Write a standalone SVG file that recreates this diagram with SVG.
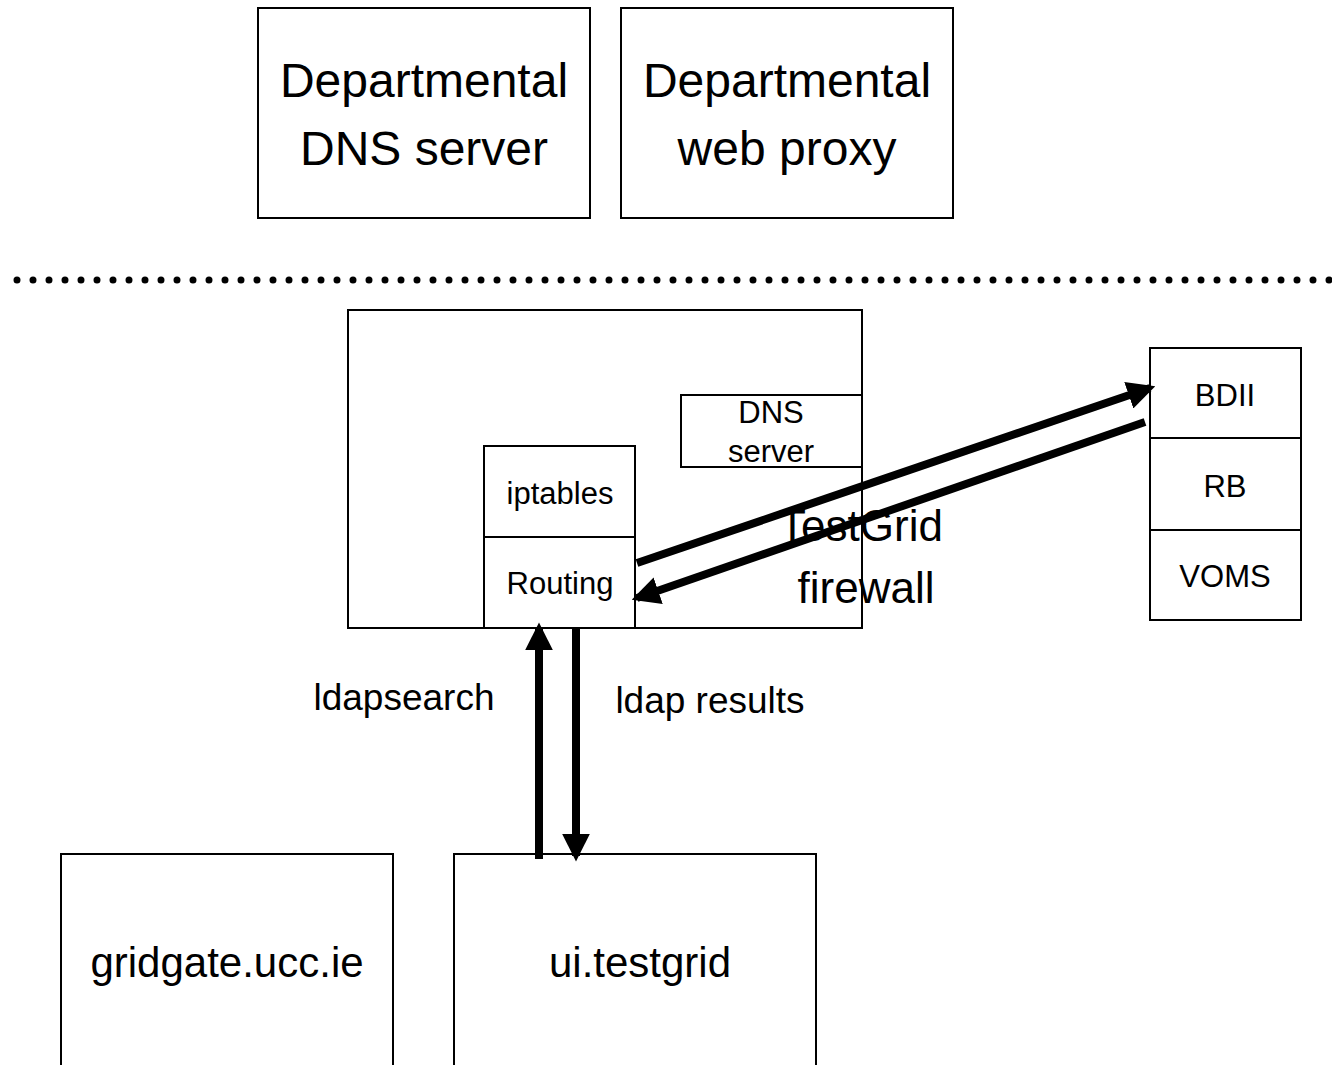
<svg xmlns="http://www.w3.org/2000/svg" width="1332" height="1065" viewBox="0 0 1332 1065">
<defs>
<style>
.box{fill:#fff;stroke:#000;stroke-width:2}
.t{font-family:"Liberation Sans",Arial,sans-serif;fill:#000;text-anchor:middle}
.big{font-size:48px}
.mid{font-size:44px}
.bot{font-size:42px}
.lab{font-size:37px}
.sm{font-size:31px}
.arr{stroke:#000;stroke-width:8;fill:none}
</style>
<marker id="ah" markerWidth="3.5" markerHeight="3.5" refX="2.8" refY="1.75" orient="auto" markerUnits="strokeWidth">
<path d="M0,0 L3.5,1.75 L0,3.5 z" fill="#000"/>
</marker>
</defs>
<rect width="1332" height="1065" fill="#fff"/>
<g id="dns-dept"><rect class="box" x="258" y="8" width="332" height="210"/>
<text class="t big" x="424" y="97">Departmental</text><text class="t big" x="424" y="165">DNS server</text></g>
<g id="proxy-dept"><rect class="box" x="621" y="8" width="332" height="210"/>
<text class="t big" x="787" y="97">Departmental</text><text class="t big" x="787" y="165">web proxy</text></g>
<line x1="17" y1="280" x2="1332" y2="280" stroke="#000" stroke-width="7" stroke-linecap="round" stroke-dasharray="0 16"/>
<g id="firewall"><rect class="box" x="348" y="310" width="514" height="318"/>
<text class="t mid" x="861" y="541">TestGrid</text><text class="t mid" x="866" y="603">firewall</text></g>
<g id="dns-server"><rect class="box" x="681" y="395" width="181" height="72"/>
<text class="t sm" x="771" y="423">DNS</text><text class="t sm" x="771" y="462">server</text></g>
<g id="iptables"><rect class="box" x="484" y="446" width="151" height="91"/>
<text class="t sm" x="560" y="504">iptables</text></g>
<g id="routing"><rect class="box" x="484" y="537" width="151" height="91"/>
<text class="t sm" x="560" y="594">Routing</text></g>
<g id="bdii"><rect class="box" x="1150" y="348" width="151" height="90"/>
<text class="t sm" x="1225" y="406">BDII</text></g>
<g id="rb"><rect class="box" x="1150" y="438" width="151" height="92"/>
<text class="t sm" x="1225" y="497">RB</text></g>
<g id="voms"><rect class="box" x="1150" y="530" width="151" height="90"/>
<text class="t sm" x="1225" y="587">VOMS</text></g>
<g id="gridgate"><rect class="box" x="61" y="854" width="332" height="230"/>
<text class="t bot" x="227" y="977">gridgate.ucc.ie</text></g>
<g id="ui"><rect class="box" x="454" y="854" width="362" height="230"/>
<text class="t bot" x="640" y="977">ui.testgrid</text></g>
<g id="connectors">
<line class="arr" x1="637" y1="563" x2="1150" y2="388" marker-end="url(#ah)"/>
<line class="arr" x1="1145" y1="422" x2="637" y2="598" marker-end="url(#ah)"/>
<line class="arr" x1="539" y1="859" x2="539" y2="628" marker-end="url(#ah)"/>
<line class="arr" x1="576" y1="628" x2="576" y2="856" marker-end="url(#ah)"/>
</g>
<text class="t lab" x="404" y="710">ldapsearch</text>
<text class="t lab" x="710" y="713">ldap results</text>
</svg>
